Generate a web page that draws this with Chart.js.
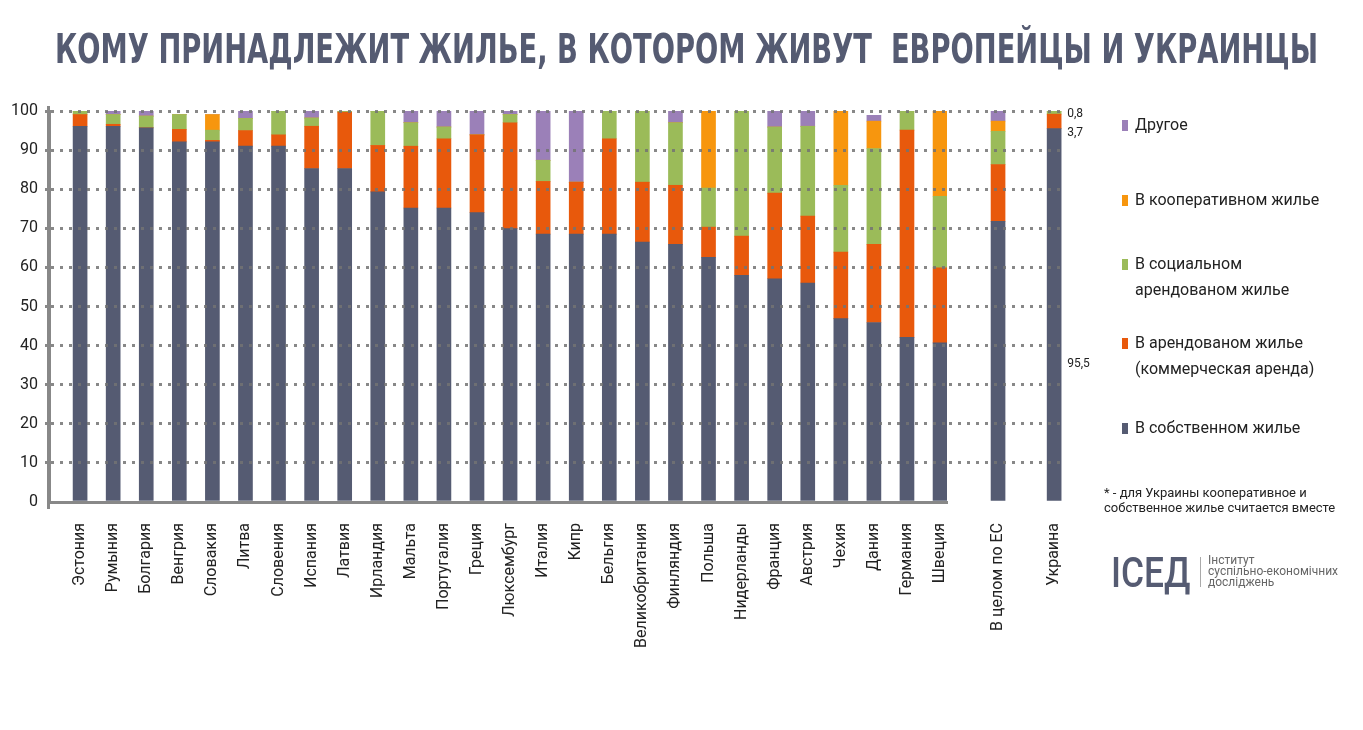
<!DOCTYPE html>
<html>
<head>
<meta charset="utf-8">
<title>Кому принадлежит жилье</title>
<script src="https://cdn.jsdelivr.net/npm/chart.js@4.4.0/dist/chart.umd.min.js"></script>
<style>
body{margin:0;background:#fff;font-family:Roboto,"Open Sans",sans-serif;}
#wrap{position:relative;width:1363px;height:730px;overflow:hidden;}
canvas{position:absolute;left:0;top:0;}
#titre{position:absolute;left:55px;top:29px;font-family:"Liberation Sans Narrow","DejaVu Sans Condensed",Roboto,sans-serif;font-weight:bold;font-size:40px;line-height:40px;color:#555b72;white-space:pre;transform-origin:0 0;}
.leg{position:absolute;left:1135px;font-size:16px;line-height:26px;color:#222;white-space:pre-line;}
.leg span{position:absolute;left:-13px;top:8px;width:6px;height:11px;}
#note{position:absolute;left:1104px;top:486px;font-size:13px;line-height:14.5px;color:#222;white-space:pre-line;}
#logo{position:absolute;left:1111px;top:552px;font-size:42px;line-height:42px;font-weight:500;color:#555b72;transform-origin:0 0;white-space:pre;}
#trait{position:absolute;left:1200px;top:557px;width:1px;height:30px;background:#aaa;}
#inst{position:absolute;left:1208px;top:555px;font-size:12px;line-height:11px;color:#666;white-space:pre-line;}
</style>
</head>
<body>
<div id="wrap">
  <canvas id="chartB" width="1363" height="730"></canvas>
  <canvas id="chartA" width="1363" height="730"></canvas>
  <div id="titre">КОМУ ПРИНАДЛЕЖИТ ЖИЛЬЕ, В КОТОРОМ ЖИВУТ  ЕВРОПЕЙЦЫ И УКРАИНЦЫ</div>
  <div id="legende"></div>
  <div id="note">* - для Украины кооперативное и
собственное жилье считается вместе</div>
  <div id="logo">ІСЕД</div>
  <div id="trait"></div>
  <div id="inst">Інститут
суспільно-економічних
досліджень</div>
</div>
<script>
// categories: 27 countries, then EU average and Ukraine
var pays = ['Эстония','Румыния','Болгария','Венгрия','Словакия','Литва','Словения','Испания','Латвия',
  'Ирландия','Мальта','Португалия','Греция','Люксембург','Италия','Кипр','Бельгия','Великобритания',
  'Финляндия','Польша','Нидерланды','Франция','Австрия','Чехия','Дания','Германия','Швеция',
  'В целом по ЕС','Украина'];

var owned  = [96.1,96.1,95.7,92.1,92.1,91.0,91.0,85.3,85.3,79.3,75.2,75.2,74.0,69.9,68.5,68.5,68.5,66.5,65.9,62.6,58.0,57.1,56.0,46.9,45.9,42.1,40.7,71.8,95.5];
var rented = [3.0,0.5,0,3.2,0.4,4.0,2.9,10.8,14.4,11.9,15.8,17.7,19.9,27.1,13.5,13.3,24.4,15.3,15.1,7.7,10.0,21.9,17.1,17.0,20.0,53.0,19.2,14.5,3.7];
var social = [0.9,2.5,3.0,3.8,2.6,3.1,6.1,2.1,0.3,8.8,6.0,3.0,0,2.1,5.4,0,7.1,18.2,16.0,10.0,32.0,16.9,23.0,17.1,24.5,4.9,18.3,8.5,0.8];
var coop   = [0,0,0,0,4.0,0,0,0,0,0,0,0,0,0,0,0,0,0,0,19.7,0,0,0,19.0,7.0,0,21.8,2.6,0];
var other  = [0,0.9,1.3,0,0,1.9,0,1.8,0,0,3.0,4.1,6.1,0.9,12.6,18.2,0,0,3.0,0,0,4.1,3.9,0,1.5,0,0,2.6,0];

var yTicks = [0,10,20,30,40,50,60,70,80,90,100];

var series = [owned, rented, social, coop, other];
var seriesNames = ['В собственном жилье', 'В арендованом жилье\n(коммерческая аренда)',
  'В социальном\nарендованом жилье', 'В кооперативном жилье', 'Другое'];
var seriesColors = ['#555b72', '#e8590c', '#9bbb59', '#f7960e', '#9b80b8'];

var nbPays = 27;
var legendTops = [415, 330, 251, 187, 112];
var ukrLabelAt = [35.2, 94.3, 99.3];   // where the Ukraine value labels sit (y value)
var grille = 'rgba(115,115,115,0.85)';

function gridColor(c) {
  if (c.tick && c.tick.value === 0) return 'rgba(0,0,0,0)';
  return grille;
}

function makeSets(from, to) {
  var sets = [];
  for (var s = 0; s < series.length; s++) {
    var pts = [];
    for (var i = from; i < to; i++) {
      pts.push({x: i - from, y: series[s][i]});
    }
    sets.push({label: seriesNames[s], data: pts, backgroundColor: seriesColors[s],
      borderWidth: 0, barThickness: 14});
  }
  return sets;
}

function tickFont() { return {family: 'Roboto', size: 16}; }

function xAxis(from, to, min, max, showBorder) {
  return {
    type: 'linear', min: min, max: max, stacked: true, offset: false,
    grid: {display: false},
    border: {display: showBorder, color: '#888', width: 3, z: 1},
    afterBuildTicks: function(sc) {
      var t = [];
      for (var i = from; i < to; i++) t.push({value: i - from});
      sc.ticks = t;
    },
    afterFit: function(sc) { sc.height = 228; },
    ticks: {autoSkip: false, minRotation: 90, maxRotation: 90, padding: 13,
      color: '#222', font: tickFont(),
      callback: function(v) { return pays[from + v]; }}
  };
}

// vertical axis line, a bit longer than the value range like the original
var axeY = {
  id: 'axeY',
  afterDraw: function(chart) {
    var ys = chart.scales.y;
    var ctx = chart.ctx;
    ctx.save();
    ctx.strokeStyle = '#888';
    ctx.lineWidth = 3;
    ctx.beginPath();
    ctx.moveTo(ys.right - 0.5, ys.getPixelForValue(100) - 5);
    ctx.lineTo(ys.right - 0.5, ys.getPixelForValue(0) + 7);
    ctx.stroke();
    ctx.restore();
  }
};

// main chart: the 27 countries
new Chart(document.getElementById('chartA'), {
  type: 'bar',
  data: {datasets: makeSets(0, nbPays)},
  options: {
    responsive: false, animation: false,
    layout: {padding: {left: 0, top: 111, right: 1363 - 947, bottom: 0}},
    plugins: {legend: {display: false}, tooltip: {enabled: false}},
    scales: {
      x: xAxis(0, nbPays, -0.94, 26.21, true),
      y: {
        min: 0, max: 100, stacked: true,
        afterBuildTicks: function(sc) { sc.ticks = yTicks.map(function(v){ return {value: v}; }); },
        afterFit: function(sc) { sc.width = 49; },
        ticks: {padding: 7, color: '#222', font: tickFont()},
        grid: {color: gridColor, lineWidth: 3, z: 1, tickLength: 4, tickColor: gridColor, tickBorderDash: [3, 6]},
        border: {display: true, color: '#888', width: 3, dash: [3, 6], z: 1}
      }
    }
  },
  plugins: [axeY]
});

// value labels next to the Ukraine bar
var ukrLabels = {
  id: 'ukrLabels',
  afterDatasetsDraw: function(chart) {
    var ctx = chart.ctx;
    var ys = chart.scales.y;
    var k = pays.length - 1;
    var vals = [owned[k], rented[k], social[k]];
    var bar = chart.getDatasetMeta(0).data[1];
    ctx.save();
    ctx.font = '12px Roboto';
    ctx.fillStyle = '#222';
    ctx.textAlign = 'left';
    ctx.textBaseline = 'middle';
    for (var i = 0; i < vals.length; i++) {
      ctx.fillText(String(vals[i]).replace('.', ','), bar.x + 13, ys.getPixelForValue(ukrLabelAt[i]));
    }
    ctx.restore();
  }
};

// EU average and Ukraine, a little apart
new Chart(document.getElementById('chartB'), {
  type: 'bar',
  data: {datasets: makeSets(nbPays, pays.length)},
  options: {
    responsive: false, animation: false,
    layout: {padding: {left: 947, top: 111, right: 1363 - 1062, bottom: 0}},
    plugins: {legend: {display: false}, tooltip: {enabled: false}},
    scales: {
      x: xAxis(nbPays, pays.length, -0.91, 1.14, false),
      y: {
        min: 0, max: 100, stacked: true,
        afterBuildTicks: function(sc) { sc.ticks = yTicks.map(function(v){ return {value: v}; }); },
        afterFit: function(sc) { sc.width = 0; },
        ticks: {display: false},
        grid: {color: gridColor, lineWidth: 3, z: 1, drawTicks: false},
        border: {display: false, dash: [3, 6], dashOffset: (947 - 49) % 9}
      }
    }
  },
  plugins: [ukrLabels]
});

// legend, top item = last series
var leg = document.getElementById('legende');
for (var s = 0; s < series.length; s++) {
  var d = document.createElement('div');
  d.className = 'leg';
  d.style.top = legendTops[s] + 'px';
  var m = document.createElement('span');
  m.style.background = seriesColors[s];
  d.appendChild(m);
  d.appendChild(document.createTextNode(seriesNames[s]));
  leg.appendChild(d);
}

function fitWidth(id, w) {
  var el = document.getElementById(id);
  el.style.transform = 'scaleX(' + (w / el.offsetWidth) + ')';
}
fitWidth('titre', 1263);
fitWidth('logo', 79);
</script>
</body>
</html>
